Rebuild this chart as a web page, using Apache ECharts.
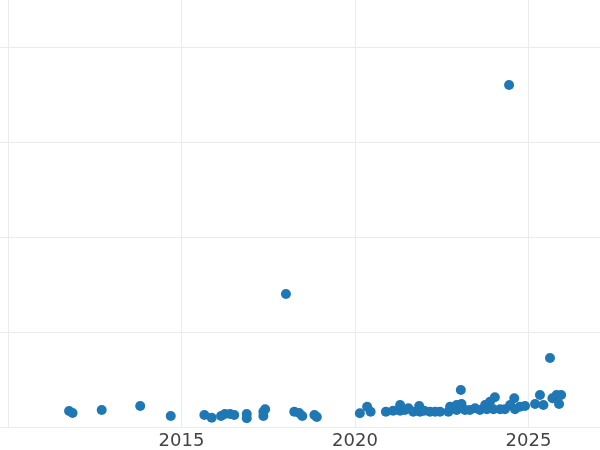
<!DOCTYPE html>
<html>
<head>
<meta charset="utf-8">
<script src="https://cdn.jsdelivr.net/npm/echarts@6/dist/echarts.min.js"></script>
<style>
  html, body { margin: 0; padding: 0; background: #fff; }
  #chart { width: 600px; height: 450px; }
</style>
</head>
<body>
<div id="chart"></div>
<script>
// 数据：年份（小数）和数值
const years = [
  2011.76, 2011.86, 2012.70, 2013.81, 2014.69, 2015.66, 2015.87, 2016.14, 2016.25, 2016.40,
  2016.52, 2016.88, 2016.88, 2017.36, 2017.36, 2017.41, 2018.01, 2018.25, 2018.39, 2018.48,
  2018.83, 2018.90, 2020.14, 2020.35, 2020.45, 2020.89, 2021.10, 2021.30, 2021.30, 2021.44,
  2021.54, 2021.68, 2021.85, 2021.87, 2021.99, 2022.16, 2022.31, 2022.45, 2022.69, 2022.74,
  2022.93, 2023.05, 2022.93, 2023.07, 2023.17, 2023.31, 2023.46, 2023.60, 2023.75, 2023.80,
  2023.89, 2024.03, 2023.99, 2024.18, 2024.32, 2024.44, 2024.47, 2024.59, 2024.61, 2024.75,
  2024.90, 2025.19, 2025.33, 2025.43, 2025.62, 2025.69, 2025.81, 2025.94, 2025.88
]
const values = [
  16.8, 14.7, 17.9, 22.1, 11.6, 12.6, 9.8, 11.6, 13.7, 13.7,
  12.6, 13.7, 9.2, 11.6, 16.1, 18.6, 140, 16.1, 14.7, 11.6,
  12.6, 10.5, 14.4, 21.4, 16.1, 16.1, 17.2, 23.2, 17.2, 17.9,
  19.7, 16.1, 22.1, 16.1, 17.2, 16.1, 16.1, 16.1, 16.1, 21.4,
  23.2, 38.9, 17.9, 24.2, 17.9, 17.9, 19.7, 17.9, 23.2, 18.6,
  26.6, 31.3, 18.6, 18.6, 18.6, 360, 23.2, 30.2, 18.6, 21.4,
  22.1, 24.2, 33.7, 23.2, 72.6, 30.2, 33.7, 33.7, 24.2
]
const xTickLabels = [2015, 2020, 2025]

const points = years.map((y, i) => [y, values[i]])

const myChart = echarts.init(document.getElementById('chart'))
myChart.setOption({
  animation: false,
  grid: {
    left: -165.5, right: -102, top: -48, bottom: 23,
    outerBoundsMode: 'none'
  },
  xAxis: {
    type: 'value',
    min: 2005,
    max: 2030,
    interval: 5,
    axisLine: { show: false },
    axisTick: { show: false },
    axisLabel: {
      margin: 5,
      fontSize: 18,
      fontFamily: 'DejaVu Sans',
      color: '#444',
      formatter: v => xTickLabels.includes(v) ? String(v) : ''
    },
    splitLine: { show: true, lineStyle: { color: '#ebebeb', width: 1 } }
  },
  yAxis: {
    type: 'value',
    min: 0,
    max: 500,
    interval: 100,
    axisLine: { show: false },
    axisTick: { show: false },
    axisLabel: { show: false },
    splitLine: { show: true, lineStyle: { color: '#ebebeb', width: 1 } }
  },
  series: [
    {
      type: 'scatter',
      data: points,
      symbolSize: 10,
      itemStyle: { color: '#1f77b4', opacity: 1 }
    }
  ]
})
</script>
</body>
</html>
